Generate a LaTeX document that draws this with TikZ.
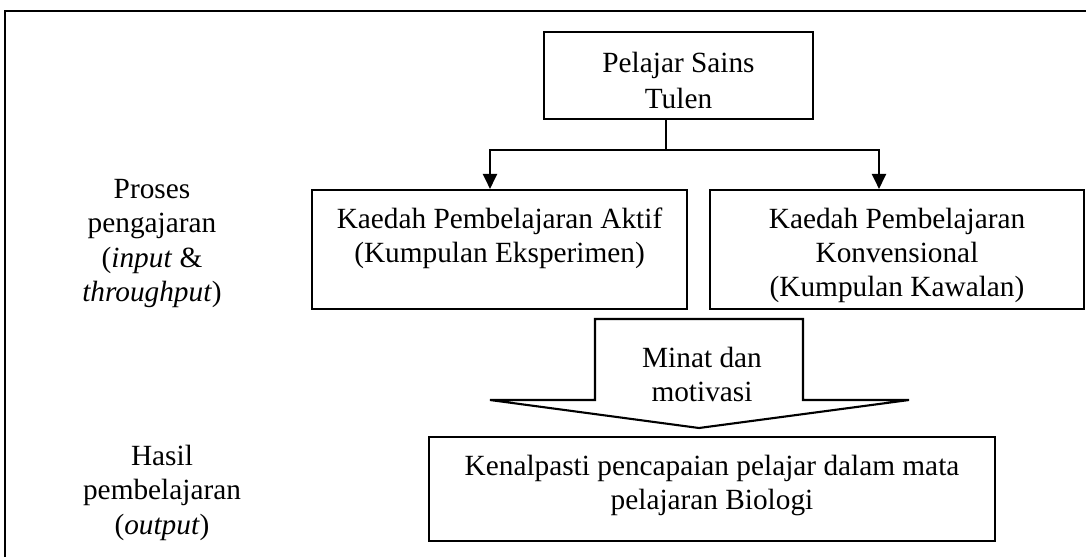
\documentclass[tikz,border=0pt]{standalone}
\usepackage{fontspec}
\setmainfont{Liberation Serif}
\usetikzlibrary{arrows.meta,positioning}

\begin{document}
\begin{tikzpicture}[x=1pt,y=-1pt,
	box/.style={draw, line width=2.1pt, inner sep=0pt},
	txt/.style={align=center, anchor=base, inner sep=0pt, font=\fontsize{29.3}{34}\selectfont},
	link/.style={line width=2.1pt},
	pointer/.style={-{Triangle[length=15pt,width=14pt]}}]
		\useasboundingbox (0,0) rectangle (1086,557);
		\draw[link] (5,557) -- (5,11) -- (1086,11);

		\node[box, minimum width=269pt, minimum height=87pt] (tulen) at (678.5,75.5) {};
		\node[box, minimum width=375pt, minimum height=119pt] (aktif) at (499.5,249.5) {};
		\node[box, minimum width=374pt, minimum height=119pt] (konv) at (897,249.5) {};
		\node[box, minimum width=566pt, minimum height=104pt] (capai) at (712,489) {};

		% text sits on the baseline of its last line
		\node[txt, font=\fontsize{29.3}{36}\selectfont] (tulentext) at (678.5,108) {Pelajar Sains\\Tulen};
		\node[txt] (aktiftext) at (499.5,262) {Kaedah Pembelajaran Aktif\\(Kumpulan Eksperimen)};
		\node[txt] (konvtext) at (897,296) {Kaedah Pembelajaran\\Konvensional\\(Kumpulan Kawalan)};
		\node[txt] (capaitext) at (712,509) {Kenalpasti pencapaian pelajar dalam mata\\pelajaran Biologi};

		\coordinate (split) at (666,150);
		\coordinate (lbend) at (490,150);
		\coordinate (rbend) at (879,150);
		\draw[link] (tulen.south -| split) -- (split);
		\draw[link, pointer] (split) -- (lbend) -- (lbend |- aktif.north);
		\draw[link, pointer] (split) -- (rbend) -- (rbend |- konv.north);

		% block arrow
		\draw[link] (595,319) -- (803,319) -- (803,400) -- (909,400) -- (699,428)
			-- (490,400) -- (595,400) -- cycle;
		\node[txt] (minat) at (702,401) {Minat dan\\motivasi};

		\node[txt, font=\fontsize{29.3}{34.5}\selectfont] (proses) at (152,301.5) {Proses\\pengajaran\\(\textit{input} \&\\\textit{throughput})};
		\node[txt, font=\fontsize{29.3}{34.5}\selectfont] (hasil) at (162,534) {Hasil\\pembelajaran\\(\textit{output})};
	\end{tikzpicture}
\end{document}
